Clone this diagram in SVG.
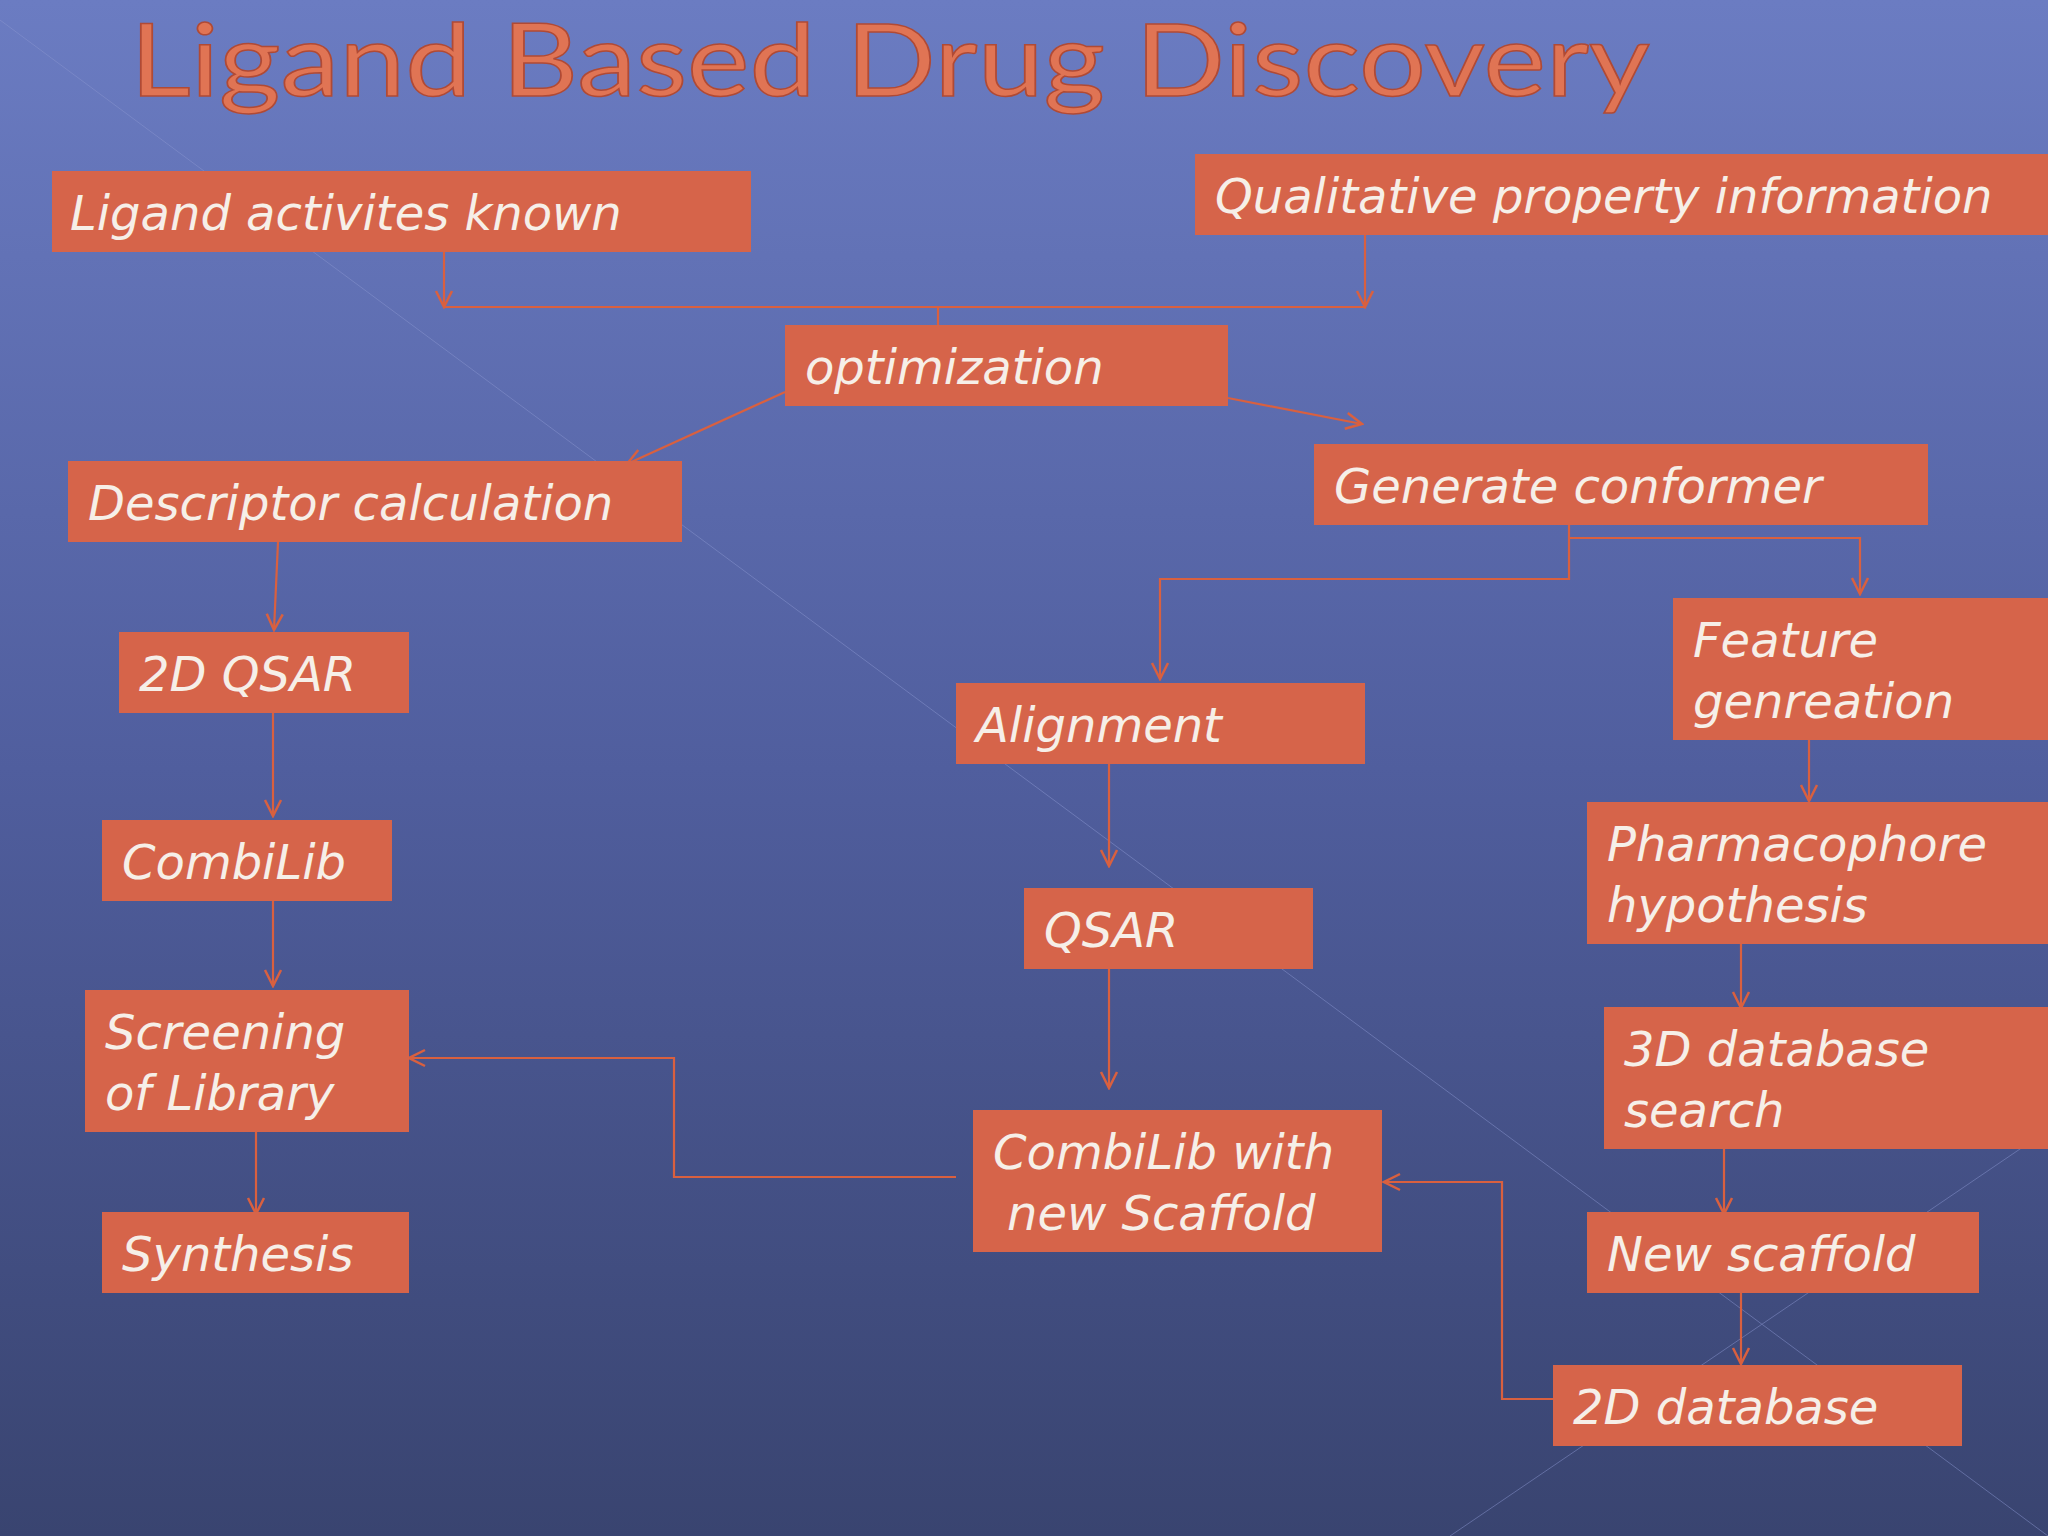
<svg xmlns="http://www.w3.org/2000/svg" width="2048" height="1536" viewBox="0 0 2048 1536">
<defs>
<linearGradient id="bg" x1="0" y1="0" x2="0" y2="1">
<stop offset="0" stop-color="#6b7cc2"/><stop offset="0.5" stop-color="#505e9e"/><stop offset="1" stop-color="#394470"/>
</linearGradient>
<marker id="ah" viewBox="0 0 20 20" refX="18" refY="10" markerWidth="20" markerHeight="20" markerUnits="userSpaceOnUse" orient="auto">
<path d="M2,2 L18,10 L2,18" fill="none" stroke="#d9603f" stroke-width="2.5"/>
</marker>
<style>
.b{fill:#d6644a}
.t{font-family:"DejaVu Sans","Open Sans",sans-serif;font-style:italic;font-size:48px;fill:#f6efe8}
.c{fill:none;stroke:#d9603f;stroke-width:2.2}
.a{marker-end:url(#ah)}
</style>
</defs>
<rect width="2048" height="1536" fill="url(#bg)"/>
<g stroke="#8a96d0" stroke-width="1" opacity="0.5" fill="none">
<path d="M0,20 L2048,1536"/><path d="M1450,1536 L2048,1130"/>
</g>
<text x="130" y="96" font-family="Lato,'Open Sans',sans-serif" font-size="100" fill="#e07454" stroke="#b04a35" stroke-width="1.5" textLength="1520" lengthAdjust="spacingAndGlyphs">Ligand Based Drug Discovery</text>
<g id="connectors">
<path class="c a" d="M444,252 V307"/><path class="c a" d="M1365,235 V307"/>
<path class="c" d="M444,307 H1365 M938,307 V325"/>
<path class="c a" d="M785,392 L627,464"/>
<path class="c a" d="M1228,398 L1362,424"/>
<path class="c a" d="M1569,525 V579 H1160 V679"/>
<path class="c a" d="M1569,538 H1860 V594"/>
<path class="c a" d="M278,542 L274,630"/>
<path class="c a" d="M273,713 V816"/>
<path class="c a" d="M273,901 V986"/>
<path class="c a" d="M256,1132 V1214"/>
<path class="c a" d="M1109,764 V866"/>
<path class="c a" d="M1109,969 V1088"/>
<path class="c a" d="M956,1177 H674 V1058 H409"/>
<path class="c a" d="M1809,740 V801"/>
<path class="c a" d="M1741,944 V1008"/>
<path class="c a" d="M1724,1149 V1214"/>
<path class="c a" d="M1741,1293 V1364"/>
<path class="c a" d="M1553,1399 H1502 V1182 H1384"/>
</g>
<g id="n1"><rect class="b" x="52" y="171" width="699" height="81"/><text class="t" x="70" y="230">Ligand activites known</text></g>
<g id="n2"><rect class="b" x="1195" y="154" width="853" height="81"/><text class="t" x="1215" y="213">Qualitative property information</text></g>
<g id="n3"><rect class="b" x="785" y="325" width="443" height="81"/><text class="t" x="805" y="384">optimization</text></g>
<g id="n4"><rect class="b" x="68" y="461" width="614" height="81"/><text class="t" x="88" y="520">Descriptor calculation</text></g>
<g id="n5"><rect class="b" x="1314" y="444" width="614" height="81"/><text class="t" x="1334" y="503">Generate conformer</text></g>
<g id="n6"><rect class="b" x="119" y="632" width="290" height="81"/><text class="t" x="139" y="691">2D QSAR</text></g>
<g id="n7"><rect class="b" x="1673" y="598" width="375" height="142"/><text class="t" x="1693" y="657">Feature</text><text class="t" x="1693" y="718">genreation</text></g>
<g id="n8"><rect class="b" x="956" y="683" width="409" height="81"/><text class="t" x="976" y="742">Alignment</text></g>
<g id="n9"><rect class="b" x="102" y="820" width="290" height="81"/><text class="t" x="122" y="879">CombiLib</text></g>
<g id="n10"><rect class="b" x="1587" y="802" width="461" height="142"/><text class="t" x="1607" y="861">Pharmacophore</text><text class="t" x="1607" y="922">hypothesis</text></g>
<g id="n11"><rect class="b" x="1024" y="888" width="289" height="81"/><text class="t" x="1044" y="947">QSAR</text></g>
<g id="n12"><rect class="b" x="85" y="990" width="324" height="142"/><text class="t" x="105" y="1049">Screening</text><text class="t" x="105" y="1110">of Library</text></g>
<g id="n13"><rect class="b" x="1604" y="1007" width="444" height="142"/><text class="t" x="1624" y="1066">3D database</text><text class="t" x="1624" y="1127">search</text></g>
<g id="n14"><rect class="b" x="973" y="1110" width="409" height="142"/><text class="t" x="993" y="1169">CombiLib with</text><text class="t" x="1007" y="1230">new Scaffold</text></g>
<g id="n15"><rect class="b" x="102" y="1212" width="307" height="81"/><text class="t" x="122" y="1271">Synthesis</text></g>
<g id="n16"><rect class="b" x="1587" y="1212" width="392" height="81"/><text class="t" x="1607" y="1271">New scaffold</text></g>
<g id="n17"><rect class="b" x="1553" y="1365" width="409" height="81"/><text class="t" x="1573" y="1424">2D database</text></g>
</svg>
